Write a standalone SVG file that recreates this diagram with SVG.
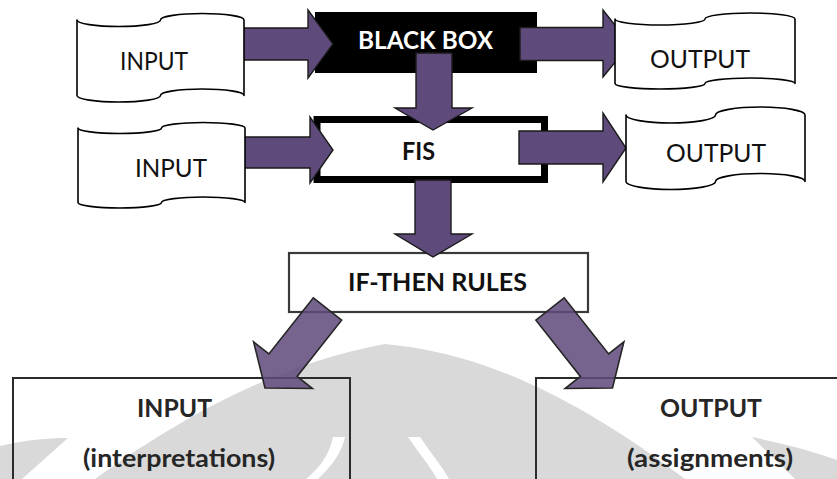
<svg xmlns="http://www.w3.org/2000/svg" width="837" height="479" viewBox="0 0 837 479">
  <style>
    .tape { fill: #ffffff; stroke: #000000; stroke-width: 1.6; stroke-linejoin: round; }
    .arrow { fill: #5f4b7b; stroke: #1a1a1a; stroke-width: 1.4; stroke-linejoin: miter; }
    .darrow { fill: #604a7b; fill-opacity: 0.86; stroke: #262626; stroke-width: 1.6; stroke-linejoin: miter; }
    .lbl { font-family: Lato, "Open Sans", "Liberation Sans", sans-serif; font-size: 25px; fill: #111111; text-anchor: middle; }
    .bold { font-weight: bold; font-size: 24px; }
    .big { fill: none; stroke: #2b2b2b; stroke-width: 2; }
    .wm { fill: #d9d9d9; }
  </style>

  <!-- watermark -->
  <g id="watermark">
    <path class="wm" d="M 95,479 C 170,425 270,365 385,344 C 470,352 560,385 685,479 Z"/>
    <path d="M 333,437 C 330,452 322,466 306,479 L 318,479 C 332,466 342,452 345,437 Z" fill="#ffffff"/>
    <path d="M 408,437 C 418,452 430,466 437,479 L 449,479 C 442,466 430,452 420,437 Z" fill="#ffffff"/>
    <path class="wm" d="M 0,446 C 25,440 48,438 68,438 L 22,479 L 0,479 Z"/>
    <path class="wm" d="M 752,437 C 790,445 815,452 837,460 L 837,479 L 795,479 Z"/>
  </g>

  <!-- boxes -->
  <g id="black-box">
    <rect x="315" y="12" width="222" height="61" fill="#000000"/>
  </g>
  <g id="fis">
    <rect x="317" y="119.5" width="227.5" height="60" fill="#ffffff" stroke="#000000" stroke-width="7"/>
  </g>
  <g id="if-then-rules">
    <rect x="289" y="253" width="299" height="59" fill="#ffffff" stroke="#3a3a3a" stroke-width="2.2"/>
  </g>
  <g id="input-interpretations">
    <rect x="13" y="378" width="337" height="120" class="big"/>
  </g>
  <g id="output-assignments">
    <rect x="536" y="378" width="330" height="120" class="big"/>
  </g>

  <!-- connectors -->
  <g id="connectors">
    <polygon class="arrow" points="238,28 308,28 308,10 333,44 308,78 308,60 238,60"/>
    <polygon class="arrow" points="520,27.5 603,27.5 603,10 630,44 603,77 603,60.5 520,60.5"/>
    <polygon class="arrow" points="238,137 310,137 310,117 333,150 310,183 310,168 238,168"/>
    <polygon class="arrow" points="519,131 603,131 603,113 626,148 603,182 603,164 519,164"/>
    <polygon class="arrow" points="416,53 452,53 452,108 472,108 433,130 395,108 416,108"/>
    <polygon class="arrow" points="415,180 451,180 451,234 472,234 433,257 395,234 415,234"/>
    <polygon class="darrow" points="313.4,297.8 268.9,354 253.6,341.9 265,388 312.4,388.5 297.1,376.4 341.6,320.2"/>
    <polygon class="darrow" points="564.1,297.8 608.6,354 623.9,341.9 612.5,388 565.1,388.5 580.4,376.4 535.9,320.2"/>
  </g>

  <!-- tape nodes -->
  <g id="input-top">
    <path class="tape" d="M 77,20 A 41.75,6.5 0 0 0 160.5,20 A 41.75,6.5 0 0 1 244,20 L 244,95.5 A 41.75,6.5 0 0 0 160.5,95.5 A 41.75,6.5 0 0 1 77,95.5 Z"/>
  </g>
  <g id="output-top">
    <path class="tape" d="M 615,19 A 45,6 0 0 0 705,19 A 45,6 0 0 1 795,19 L 795,83.5 A 45,5.5 0 0 0 705,83.5 A 45,5.5 0 0 1 615,83.5 Z"/>
  </g>
  <g id="input-fis">
    <path class="tape" d="M 78,128 A 41.75,5.5 0 0 0 161.5,128 A 41.75,5.5 0 0 1 245,128 L 245,202.5 A 41.75,5.5 0 0 0 161.5,202.5 A 41.75,5.5 0 0 1 78,202.5 Z"/>
  </g>
  <g id="output-fis">
    <path class="tape" d="M 626,115 A 44.75,8 0 0 0 715.5,115 A 44.75,8 0 0 1 805,115 L 805,181.5 A 44.75,8 0 0 0 715.5,181.5 A 44.75,8 0 0 1 626,181.5 Z"/>
  </g>

  <!-- labels -->
  <g id="labels">
    <text class="lbl" x="154" y="70" textLength="68" lengthAdjust="spacingAndGlyphs">INPUT</text>
    <text class="lbl bold" x="425.5" y="49" textLength="135" lengthAdjust="spacingAndGlyphs" style="fill:#ffffff">BLACK BOX</text>
    <text class="lbl" x="700" y="68" textLength="100" lengthAdjust="spacingAndGlyphs">OUTPUT</text>
    <text class="lbl" x="171" y="177" textLength="72" lengthAdjust="spacingAndGlyphs">INPUT</text>
    <text class="lbl bold" x="418.5" y="160" textLength="33" lengthAdjust="spacingAndGlyphs" style="font-size:25px">FIS</text>
    <text class="lbl" x="716" y="162" textLength="100" lengthAdjust="spacingAndGlyphs">OUTPUT</text>
    <text class="lbl bold" x="437.5" y="291" textLength="179" lengthAdjust="spacingAndGlyphs">IF-THEN RULES</text>
    <text class="lbl bold" x="174.5" y="417" textLength="75" lengthAdjust="spacingAndGlyphs" style="fill:#262626">INPUT</text>
    <text class="lbl bold" x="179" y="467" textLength="192" lengthAdjust="spacingAndGlyphs" style="fill:#262626">(interpretations)</text>
    <text class="lbl bold" x="711" y="417" textLength="102" lengthAdjust="spacingAndGlyphs" style="fill:#262626">OUTPUT</text>
    <text class="lbl bold" x="710" y="467" textLength="166" lengthAdjust="spacingAndGlyphs" style="fill:#262626">(assignments)</text>
  </g>
</svg>
